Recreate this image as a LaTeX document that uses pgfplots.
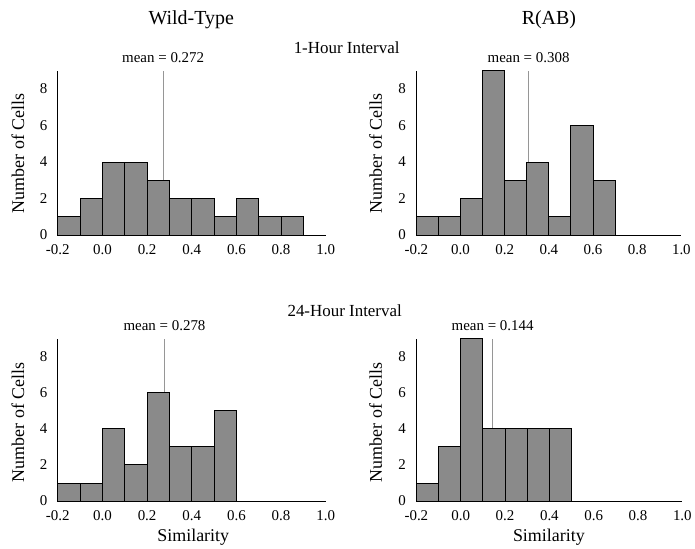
\documentclass[border=0pt]{standalone}
\usepackage{fontspec}
\setmainfont{Liberation Serif}
\usepackage{pgfplots}
\pgfplotsset{compat=1.18}
\definecolor{barfill}{RGB}{138,138,138}
\definecolor{meanline}{RGB}{150,150,150}

\pgfplotsset{
  hist/.style={
    scale only axis,
    anchor=south west,
    axis lines=left,
    axis line style={-, line width=1.1bp},
    xmin=-0.2, xmax=1.0, ymin=0, ymax=9,
    xtick={-0.2,0,0.2,0.4,0.6,0.8,1.0},
    xticklabels={-0.2,0.0,0.2,0.4,0.6,0.8,1.0},
    ytick={0,2,4,6,8},
    yticklabels={0,2,4,6,8},
    major tick length=0pt,
    tick label style={font=\fontsize{15bp}{17bp}\selectfont},
    xticklabel style={yshift=-6bp},
    yticklabel style={xshift=-7bp},
    clip=false,
  },
  bars/.style={ybar interval, fill=barfill, draw=black, line width=1bp},
  mean/.style={meanline, line width=0.8bp},
}

\begin{document}
\begin{tikzpicture}
\path (0,0) rectangle (695bp,550bp);

% titles
\node[font=\fontsize{20bp}{22bp}\selectfont] at (192bp,530bp) {Wild-Type};
\node[font=\fontsize{20bp}{22bp}\selectfont] at (551bp,530bp) {R(AB)};
\node[font=\fontsize{17bp}{19bp}\selectfont] at (348bp,502bp) {1-Hour Interval};
\node[font=\fontsize{17bp}{19bp}\selectfont] at (346bp,238bp) {24-Hour Interval};
\node[font=\fontsize{18bp}{20bp}\selectfont, rotate=90] at (18bp,396bp) {Number of Cells};
\node[font=\fontsize{18bp}{20bp}\selectfont, rotate=90] at (377bp,396bp) {Number of Cells};
\node[font=\fontsize{18bp}{20bp}\selectfont, rotate=90] at (18bp,126bp) {Number of Cells};
\node[font=\fontsize{18bp}{20bp}\selectfont, rotate=90] at (377bp,126bp) {Number of Cells};
\node[font=\fontsize{18bp}{20bp}\selectfont] at (194bp,11bp) {Similarity};
\node[font=\fontsize{18bp}{20bp}\selectfont] at (551bp,11bp) {Similarity};

% Wild-Type, 1 hour
\begin{axis}[hist, at={(58bp,314bp)}, width=269bp, height=165bp]
  \addplot[mean] coordinates {(0.272,0) (0.272,9)};
  \addplot[bars] coordinates {
    (-0.2,1) (-0.1,2) (0.0,4) (0.1,4) (0.2,3) (0.3,2)
    (0.4,2) (0.5,1) (0.6,2) (0.7,1) (0.8,1) (0.9,0)};
  \node[font=\fontsize{15bp}{17bp}\selectfont] at (axis cs:0.272,9) [yshift=13bp] {mean = 0.272};
\end{axis}

% R(AB), 1 hour
\begin{axis}[hist, at={(418bp,314bp)}, width=266bp, height=165bp]
  \addplot[mean] coordinates {(0.308,0) (0.308,9)};
  \addplot[bars] coordinates {
    (-0.2,1) (-0.1,1) (0.0,2) (0.1,9) (0.2,3) (0.3,4)
    (0.4,1) (0.5,6) (0.6,3) (0.7,0)};
  \node[font=\fontsize{15bp}{17bp}\selectfont] at (axis cs:0.308,9) [yshift=13bp] {mean = 0.308};
\end{axis}

% Wild-Type, 24 hours
\begin{axis}[hist, at={(58bp,47bp)}, width=269bp, height=163bp]
  \addplot[mean] coordinates {(0.278,0) (0.278,9)};
  \addplot[bars] coordinates {
    (-0.2,1) (-0.1,1) (0.0,4) (0.1,2) (0.2,6) (0.3,3)
    (0.4,3) (0.5,5) (0.6,0)};
  \node[font=\fontsize{15bp}{17bp}\selectfont] at (axis cs:0.278,9) [yshift=13bp] {mean = 0.278};
\end{axis}

% R(AB), 24 hours
\begin{axis}[hist, at={(418bp,47bp)}, width=267bp, height=163bp]
  \addplot[mean] coordinates {(0.144,0) (0.144,9)};
  \addplot[bars] coordinates {
    (-0.2,1) (-0.1,3) (0.0,9) (0.1,4) (0.2,4) (0.3,4)
    (0.4,4) (0.5,0)};
  \node[font=\fontsize{15bp}{17bp}\selectfont] at (axis cs:0.144,9) [yshift=13bp] {mean = 0.144};
\end{axis}
\end{tikzpicture}
\end{document}
